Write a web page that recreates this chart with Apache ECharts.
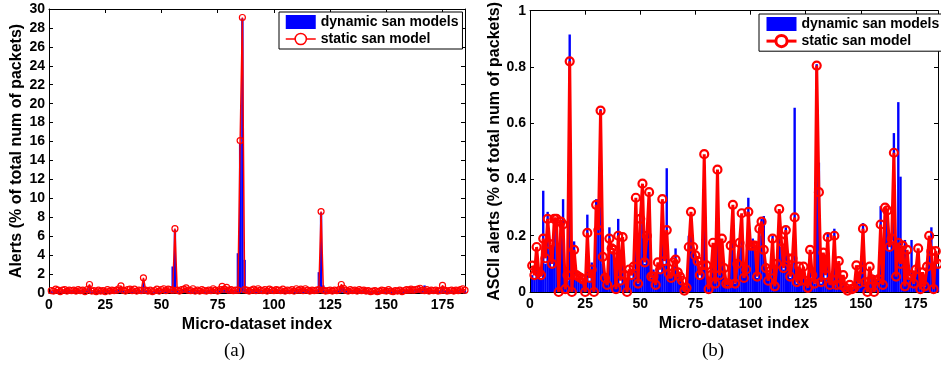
<!DOCTYPE html>
<html lang="en" style="height: 100%">
<head>
    <meta http-equiv="Content-Type" content="text/html; charset=utf-8"/>
    <title>Alerts per micro-dataset</title>
    <script type="text/javascript" src="https://cdn.jsdelivr.net/npm/echarts@6/dist/echarts.min.js"></script>
</head>
<body style="height: 100%; margin: 0; background: #fff">
<div id="container" style="width: 941px; height: 366px"></div>
<script type="text/javascript">
    // (a) alerts, % of total num of packets, index 1..185
    var alertsDynamic = [
        0.2, 0.15, 0.3, 0.25, 0.1, 0.2, 0.3, 0.15, 0.2, 0.2,
        0.25, 0.15, 0.3, 0.2, 0.25, 0.1, 0.3, 0.8, 0.15, 0.2,
        0.1, 0.25, 0.15, 0.2, 0.1, 0.3, 0.15, 0.25, 0.2, 0.25,
        0.4, 0.6, 0.25, 0.15, 0.3, 0.35, 0.2, 0.3, 0.15, 0.25,
        0.2, 1.4, 0.25, 0.15, 0.25, 0.1, 0.2, 0.35, 0.15, 0.3,
        0.4, 0.2, 0.35, 0.3, 2.8, 6.7, 0.25, 0.15, 0.3, 0.35,
        0.5, 0.25, 0.2, 0.4, 0.15, 0.25, 0.15, 0.3, 0.2, 0.15,
        0.25, 0.2, 0.4, 0.25, 0.15, 0.3, 0.6, 0.35, 0.5, 0.25,
        0.3, 0.2, 0.25, 4.2, 15.8, 29.0, 3.5, 0.25, 0.15, 0.25,
        0.35, 0.2, 0.4, 0.25, 0.2, 0.3, 0.15, 0.35, 0.25, 0.2,
        0.3, 0.25, 0.2, 0.35, 0.15, 0.25, 0.2, 0.3, 0.15, 0.4,
        0.25, 0.35, 0.2, 0.4, 0.25, 0.15, 0.25, 0.2, 0.25, 2.2,
        8.5, 0.8, 0.15, 0.2, 0.25, 0.15, 0.25, 0.2, 0.3, 0.7,
        0.6, 0.25, 0.15, 0.3, 0.2, 0.25, 0.15, 0.3, 0.2, 0.25,
        0.15, 0.2, 0.1, 0.15, 0.2, 0.1, 0.15, 0.25, 0.2, 0.15,
        0.3, 0.15, 0.1, 0.2, 0.15, 0.25, 0.1, 0.2, 0.3, 0.25,
        0.35, 0.25, 0.3, 0.35, 0.6, 0.3, 0.8, 0.3, 0.15, 0.25,
        0.2, 0.25, 0.15, 0.2, 0.7, 0.25, 0.15, 0.2, 0.25, 0.15,
        0.25, 0.2, 0.3, 0.4, 0.25
    ];
    var alertsStatic = [
        0.25, 0.2, 0.4, 0.3, 0.15, 0.3, 0.35, 0.2, 0.3, 0.25,
        0.3, 0.2, 0.35, 0.25, 0.3, 0.15, 0.35, 0.9, 0.2, 0.25,
        0.15, 0.3, 0.2, 0.25, 0.15, 0.35, 0.2, 0.3, 0.25, 0.3,
        0.45, 0.75, 0.3, 0.2, 0.35, 0.4, 0.25, 0.4, 0.2, 0.3,
        0.25, 1.6, 0.3, 0.2, 0.3, 0.15, 0.25, 0.4, 0.2, 0.35,
        0.45, 0.25, 0.4, 0.35, 0.3, 6.8, 0.3, 0.2, 0.35, 0.4,
        0.55, 0.3, 0.25, 0.45, 0.2, 0.3, 0.2, 0.35, 0.25, 0.2,
        0.3, 0.25, 0.45, 0.3, 0.2, 0.35, 0.7, 0.4, 0.6, 0.3,
        0.35, 0.25, 0.3, 0.3, 16.1, 29.1, 0.35, 0.3, 0.2, 0.3,
        0.4, 0.25, 0.45, 0.3, 0.25, 0.35, 0.2, 0.4, 0.3, 0.25,
        0.35, 0.3, 0.25, 0.4, 0.2, 0.3, 0.25, 0.35, 0.2, 0.45,
        0.3, 0.4, 0.25, 0.45, 0.3, 0.2, 0.3, 0.25, 0.3, 0.35,
        8.6, 0.3, 0.2, 0.25, 0.3, 0.2, 0.3, 0.25, 0.35, 0.9,
        0.5, 0.3, 0.2, 0.35, 0.25, 0.3, 0.2, 0.35, 0.25, 0.3,
        0.2, 0.25, 0.15, 0.2, 0.25, 0.15, 0.2, 0.3, 0.25, 0.2,
        0.35, 0.2, 0.15, 0.25, 0.2, 0.3, 0.15, 0.25, 0.35, 0.3,
        0.4, 0.3, 0.35, 0.4, 0.5, 0.3, 0.25, 0.35, 0.2, 0.3,
        0.25, 0.3, 0.2, 0.25, 0.8, 0.3, 0.2, 0.25, 0.3, 0.2,
        0.3, 0.25, 0.35, 0.45, 0.3
    ];
    // (b) ASCII alerts, % of total num of packets
    var asciiDynamic = [
        0.06, 0.05, 0.12, 0.06, 0.05, 0.36, 0.1, 0.285, 0.15, 0.09,
        0.24, 0.25, 0.02, 0.2, 0.33, 0.02, 0.04, 0.915, 0.02, 0.18,
        0.05, 0.04, 0.04, 0.03, 0.01, 0.275, 0.04, 0.105, 0.01, 0.33,
        0.33, 0.65, 0.1, 0.04, 0.03, 0.23, 0.14, 0.13, 0.02, 0.26,
        0.03, 0.17, 0.05, 0.02, 0.07, 0.05, 0.08, 0.3, 0.03, 0.24,
        0.36, 0.1, 0.18, 0.33, 0.05, 0.08, 0.03, 0.09, 0.07, 0.3,
        0.1, 0.44, 0.06, 0.05, 0.09, 0.155, 0.06, 0.05, 0.03, 0.01,
        0.02, 0.2, 0.25, 0.14, 0.12, 0.1, 0.05, 0.08, 0.45, 0.08,
        0.02, 0.05, 0.15, 0.1, 0.4, 0.06, 0.17, 0.08, 0.03, 0.03,
        0.15, 0.3, 0.03, 0.09, 0.16, 0.26, 0.05, 0.07, 0.335, 0.15,
        0.19, 0.15, 0.05, 0.2, 0.26, 0.27, 0.08, 0.04, 0.07, 0.2,
        0.03, 0.1, 0.27, 0.16, 0.08, 0.23, 0.11, 0.05, 0.11, 0.655,
        0.03, 0.08, 0.04, 0.08, 0.04, 0.02, 0.13, 0.05, 0.03, 0.81,
        0.46, 0.03, 0.12, 0.05, 0.21, 0.03, 0.04, 0.225, 0.03, 0.1,
        0.02, 0.05, 0.02, 0.01, 0.02, 0.01, 0.02, 0.08, 0.03, 0.07,
        0.245, 0.03, 0.01, 0.08, 0.04, 0.06, 0.04, 0.05, 0.305, 0.03,
        0.27, 0.27, 0.15, 0.17, 0.565, 0.08, 0.675, 0.41, 0.15, 0.185,
        0.13, 0.05, 0.185, 0.03, 0.07, 0.14, 0.02, 0.065, 0.02, 0.09,
        0.18, 0.23, 0.02, 0.13, 0.09
    ];
    var asciiStatic = [
        0.094, 0.06, 0.16, 0.07, 0.06, 0.19, 0.12, 0.26, 0.17, 0.10,
        0.26, 0.26, 0.0, 0.25, 0.24, 0.01, 0.06, 0.82, 0.0, 0.15,
        0.06, 0.055, 0.05, 0.045, 0.0, 0.21, 0.05, 0.08, 0.0, 0.31,
        0.22, 0.645, 0.125, 0.05, 0.025, 0.19, 0.155, 0.15, 0.01, 0.2,
        0.04, 0.195, 0.06, 0.0, 0.08, 0.06, 0.09, 0.335, 0.03, 0.26,
        0.385, 0.105, 0.2, 0.355, 0.055, 0.055, 0.025, 0.105, 0.08, 0.33,
        0.11, 0.22, 0.065, 0.05, 0.105, 0.115, 0.07, 0.055, 0.04, 0.005,
        0.015, 0.16, 0.285, 0.16, 0.13, 0.11, 0.06, 0.095, 0.49, 0.095,
        0.01, 0.06, 0.175, 0.03, 0.435, 0.06, 0.19, 0.085, 0.03, 0.03,
        0.165, 0.31, 0.03, 0.1, 0.175, 0.28, 0.05, 0.08, 0.285, 0.165,
        0.165, 0.165, 0.055, 0.225, 0.25, 0.15, 0.085, 0.04, 0.075, 0.19,
        0.02, 0.1, 0.295, 0.18, 0.085, 0.22, 0.12, 0.055, 0.12, 0.265,
        0.035, 0.09, 0.04, 0.09, 0.04, 0.015, 0.15, 0.06, 0.03, 0.805,
        0.355, 0.035, 0.14, 0.06, 0.195, 0.025, 0.045, 0.2, 0.025, 0.11,
        0.025, 0.06, 0.015, 0.005, 0.025, 0.01, 0.015, 0.095, 0.03, 0.08,
        0.225, 0.035, 0.0, 0.09, 0.045, 0.0, 0.04, 0.045, 0.24, 0.025,
        0.3, 0.29, 0.16, 0.19, 0.495, 0.055, 0.175, 0.1, 0.165, 0.02,
        0.15, 0.06, 0.06, 0.03, 0.08, 0.155, 0.01, 0.07, 0.02, 0.09,
        0.2, 0.145, 0.01, 0.145, 0.1
    ];
    var xTicks = [0, 25, 50, 75, 100, 125, 150, 175];
    var seriesNames = ['dynamic san models', 'static san model'];

    // index -> [index, value] so bars sit on the numeric x axis
    function pairs(arr) {
        return arr.map(function (v, i) { return [i + 1, v]; });
    }

    var font = 'Liberation Sans';
    var lineCol = '#000';

    function xAxes(grid) {
        var base = {
            gridIndex: grid, type: 'value', min: 0, max: 185, interval: 25,
            axisLine: {show: true, onZero: false, lineStyle: {color: lineCol, width: 1}},
            axisTick: {show: true, inside: true, length: 4, lineStyle: {color: lineCol}},
            splitLine: {show: false}
        };
        var bottom = Object.assign({}, base, {
            position: 'bottom',
            name: 'Micro-dataset index', nameLocation: 'middle', nameGap: 22,
            nameTextStyle: {fontFamily: font, fontWeight: 'bold', fontSize: 16, color: '#000'},
            axisLabel: {
                margin: 5, fontFamily: font, fontWeight: 'bold', fontSize: 14, color: '#000',
                formatter: function (v) { return xTicks.indexOf(v) >= 0 ? String(v) : ''; }
            }
        });
        var top = Object.assign({}, base, {position: 'top', axisLabel: {show: false}});
        return [bottom, top];
    }

    function yAxes(grid, max, interval, title) {
        var base = {
            gridIndex: grid, type: 'value', min: 0, max: max, interval: interval,
            axisLine: {show: true, onZero: false, lineStyle: {color: lineCol, width: 1}},
            axisTick: {show: true, inside: true, length: 4, lineStyle: {color: lineCol}},
            splitLine: {show: false}
        };
        var left = Object.assign({}, base, {
            position: 'left',
            name: title, nameLocation: 'middle', nameGap: grid === 0 ? 24 : 25,
            nameTextStyle: {fontFamily: font, fontWeight: 'bold', fontSize: 16, color: '#000'},
            axisLabel: {margin: 4, fontFamily: font, fontWeight: 'bold', fontSize: 14, color: '#000'}
        });
        var right = Object.assign({}, base, {position: 'right', axisLabel: {show: false}});
        return [left, right];
    }

    function legend(left, top, lw) {
        return {
            left: left, top: top, orient: 'vertical',
            backgroundColor: '#fff', borderColor: '#000', borderWidth: 1, borderRadius: 0,
            padding: [3, 4, 3, 6], itemGap: 3, itemWidth: 30, itemHeight: 14,
            textStyle: {fontFamily: font, fontWeight: 'bold', fontSize: 14, color: '#000'},
            data: [
                {name: seriesNames[0], icon: 'rect', itemStyle: {color: '#0000ff'}},
                {name: seriesNames[1], lineStyle: {color: '#ff0000', width: lw},
                 itemStyle: {color: '#fff', borderColor: '#ff0000', borderWidth: lw}}
            ]
        };
    }

    var xa = xAxes(0).concat(xAxes(1));
    var ya = yAxes(0, 30, 2, 'Alerts (% of total num of packets)')
        .concat(yAxes(1, 1, 0.2, 'ASCII alerts (% of total num of packets)'));

    var option = {
        animation: false,
        backgroundColor: '#fff',
        grid: [
            {left: 49, top: 9, width: 416, height: 284},
            {left: 530, top: 9, width: 410, height: 283}
        ],
        xAxis: xa,
        yAxis: ya,
        legend: [legend(279, 12, 1.5), legend(759, 14, 3)],
        graphic: [
            {type: 'text', left: 224, top: 342,
             style: {text: '(a)', fontFamily: 'Liberation Serif', fontSize: 19, fill: '#000'}},
            {type: 'text', left: 702, top: 342,
             style: {text: '(b)', fontFamily: 'Liberation Serif', fontSize: 19, fill: '#000'}}
        ],
        series: [
            {
                name: seriesNames[0], type: 'bar', xAxisIndex: 0, yAxisIndex: 0,
                data: pairs(alertsDynamic), barWidth: 2.4, itemStyle: {color: '#0000ff'}
            },
            {
                name: seriesNames[1], type: 'line', xAxisIndex: 0, yAxisIndex: 0,
                data: pairs(alertsStatic), symbol: 'circle', symbolSize: 6,
                lineStyle: {color: '#ff0000', width: 1.5},
                itemStyle: {color: 'rgba(255,255,255,0)', borderColor: '#ff0000', borderWidth: 1.2}
            },
            {
                name: seriesNames[0], type: 'bar', xAxisIndex: 2, yAxisIndex: 2,
                data: pairs(asciiDynamic), barWidth: 2.4, itemStyle: {color: '#0000ff'}
            },
            {
                name: seriesNames[1], type: 'line', xAxisIndex: 2, yAxisIndex: 2,
                data: pairs(asciiStatic), symbol: 'circle', symbolSize: 8,
                lineStyle: {color: '#ff0000', width: 3},
                itemStyle: {color: 'rgba(255,255,255,0)', borderColor: '#ff0000', borderWidth: 2.2}
            }
        ]
    };

    var myChart = echarts.init(document.getElementById('container'));
    myChart.setOption(option);
</script>
</body>
</html>
